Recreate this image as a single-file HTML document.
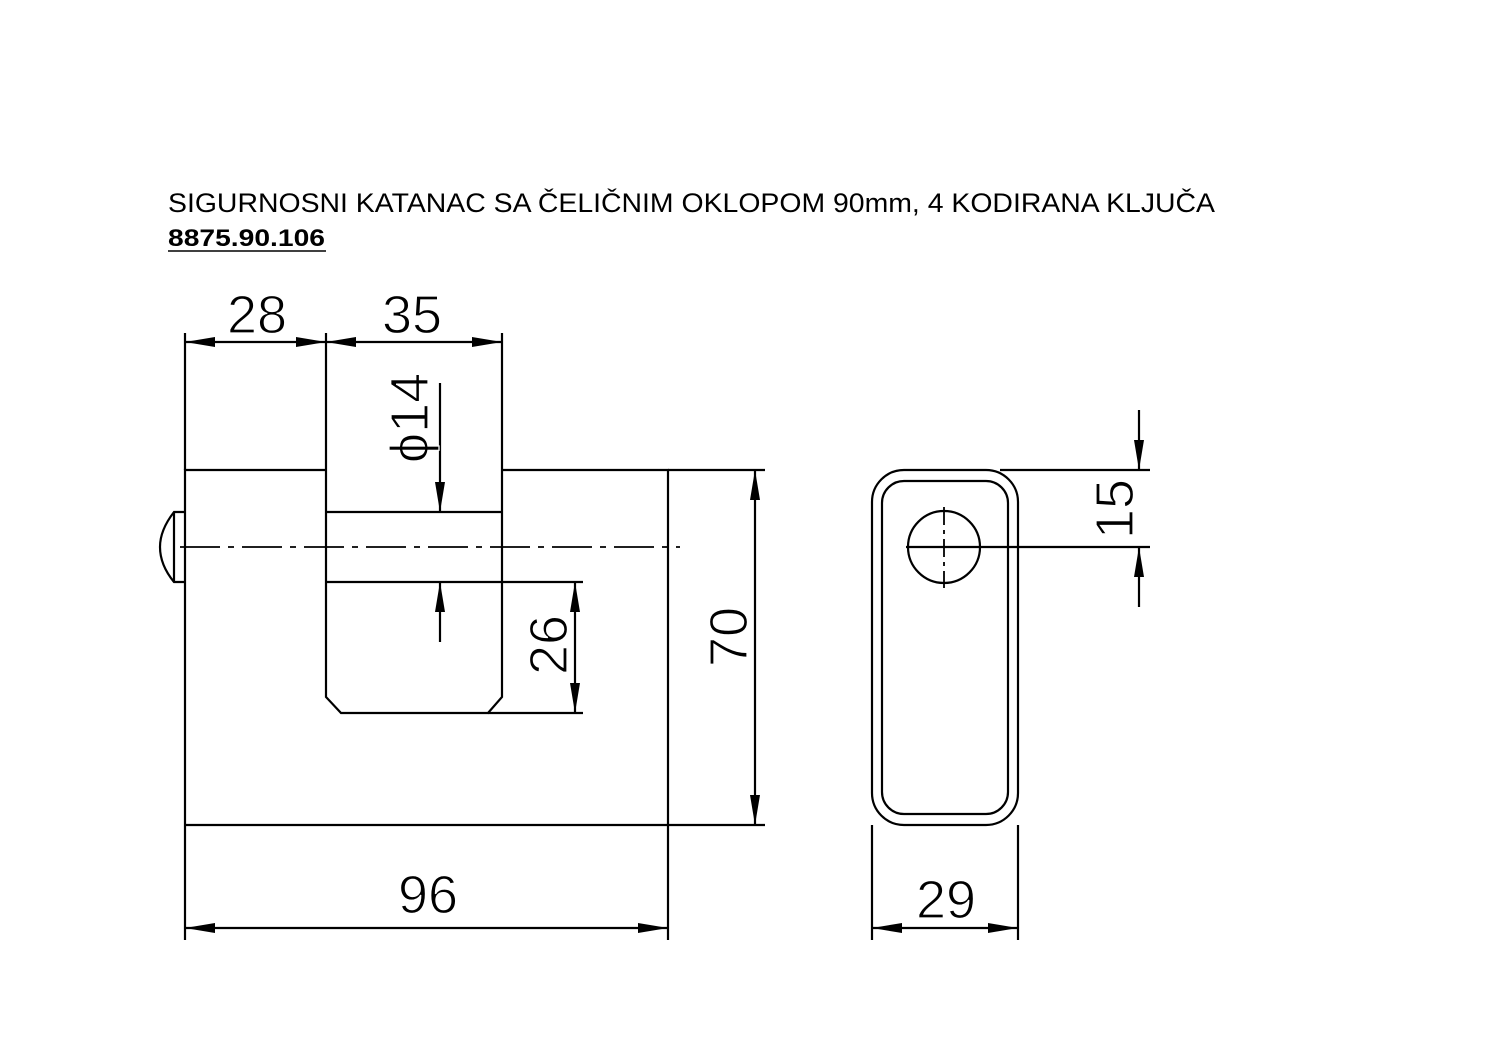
<!DOCTYPE html>
<html><head><meta charset="utf-8"><style>
html,body{margin:0;padding:0;background:#fff}
svg{display:block}
.d{font-family:"Liberation Sans",sans-serif;font-size:54px;fill:#000;stroke:#fff;stroke-width:1.2px;paint-order:normal}
</style></head><body>
<svg width="1500" height="1061" viewBox="0 0 1500 1061" xmlns="http://www.w3.org/2000/svg">
<defs>
<marker id="a" viewBox="0 0 30 10" refX="30" refY="5" markerWidth="30" markerHeight="10" markerUnits="userSpaceOnUse" orient="auto-start-reverse"><path d="M0,0 L30,5 L0,10 Z" fill="#000"/></marker>
</defs>
<text x="168" y="212" font-family="Liberation Sans,sans-serif" font-size="27" fill="#000" textLength="1047" lengthAdjust="spacingAndGlyphs">SIGURNOSNI KATANAC SA ČELIČNIM OKLOPOM 90mm, 4 KODIRANA KLJUČA</text>
<text x="168" y="246" font-family="Liberation Sans,sans-serif" font-size="24" font-weight="bold" fill="#000" textLength="157" lengthAdjust="spacingAndGlyphs">8875.90.106</text>
<line x1="168" y1="251" x2="326" y2="251" stroke="#000" stroke-width="1.5"/>
<g stroke="#000" stroke-width="2.2" fill="none">
<polyline points="326,470 185,470 185,940"/>
<polyline points="502,470 668,470 668,940"/>
<line x1="185" y1="825" x2="765" y2="825"/>
<line x1="668" y1="470" x2="765" y2="470"/>
<polyline points="326,333 326,697 341,713 488,713 502,697 502,333"/>
<line x1="185" y1="333" x2="185" y2="470"/>
<line x1="326" y1="512" x2="502" y2="512"/>
<line x1="326" y1="582" x2="583" y2="582"/>
<line x1="488" y1="713" x2="583" y2="713"/>
<path d="M185,512 L174,512 Q160,530 160,547 Q160,565 174,582 L185,582"/>
<line x1="174" y1="512" x2="174" y2="582"/>
<line x1="180" y1="547" x2="680" y2="547" stroke-width="1.8" stroke-dasharray="40,8,6,8"/>
<line x1="185" y1="342" x2="326" y2="342" marker-start="url(#a)" marker-end="url(#a)"/>
<line x1="326" y1="342" x2="502" y2="342" marker-start="url(#a)" marker-end="url(#a)"/>
<line x1="440" y1="383" x2="440" y2="512" marker-end="url(#a)"/>
<line x1="440" y1="642" x2="440" y2="582" marker-end="url(#a)"/>
<line x1="575" y1="582" x2="575" y2="713" marker-start="url(#a)" marker-end="url(#a)"/>
<line x1="755" y1="470" x2="755" y2="825" marker-start="url(#a)" marker-end="url(#a)"/>
<line x1="185" y1="928" x2="668" y2="928" marker-start="url(#a)" marker-end="url(#a)"/>
<rect x="872" y="470" width="146" height="355" rx="32"/>
<rect x="882" y="481" width="126" height="333" rx="22"/>
<circle cx="944" cy="547" r="36"/>
<line x1="944" y1="507" x2="944" y2="588" stroke-width="1.8" stroke-dasharray="18,5,4,5"/>
<line x1="906" y1="547" x2="1150" y2="547"/>
<line x1="1000" y1="470" x2="1150" y2="470"/>
<line x1="1139" y1="410" x2="1139" y2="470" marker-end="url(#a)"/>
<line x1="1139" y1="607" x2="1139" y2="547" marker-end="url(#a)"/>
<line x1="872" y1="825" x2="872" y2="940"/>
<line x1="1018" y1="825" x2="1018" y2="940"/>
<line x1="872" y1="928" x2="1018" y2="928" marker-start="url(#a)" marker-end="url(#a)"/>
</g>
<text class="d" x="257" y="333" text-anchor="middle">28</text>
<text class="d" x="412" y="333" text-anchor="middle">35</text>
<text class="d" x="428" y="913" text-anchor="middle">96</text>
<text class="d" x="946" y="918" text-anchor="middle">29</text>
<text class="d" text-anchor="middle" transform="translate(428,418) rotate(-90)">ϕ14</text>
<text class="d" text-anchor="middle" transform="translate(567,645) rotate(-90)">26</text>
<text class="d" text-anchor="middle" transform="translate(747,637) rotate(-90)">70</text>
<text class="d" text-anchor="middle" transform="translate(1133,509) rotate(-90)">15</text>
</svg>
</body></html>
